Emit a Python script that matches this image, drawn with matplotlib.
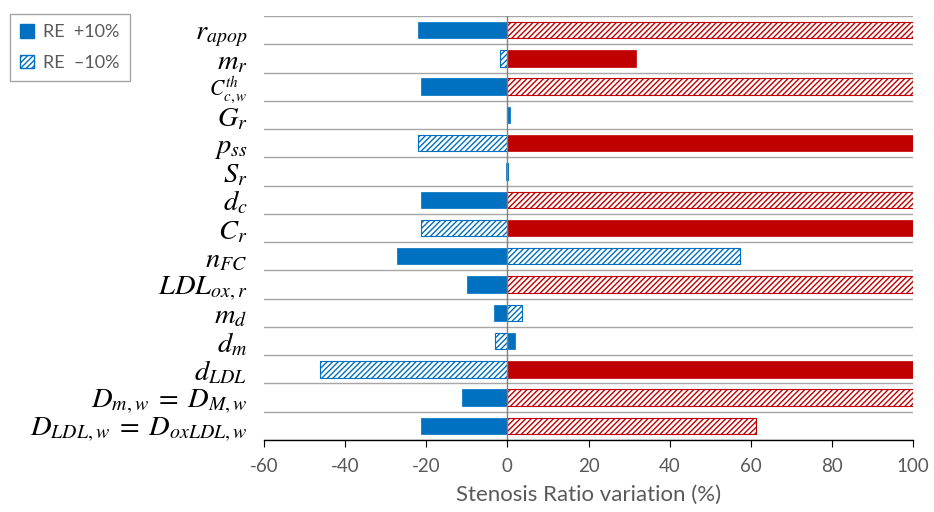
import matplotlib
matplotlib.use('Agg')
import matplotlib.pyplot as plt
import matplotlib.transforms as mtransforms
from matplotlib.patches import Patch
import numpy as np

# parametri (dall'alto verso il basso)
labels = [r'$r_{apop}$', r'$m_r$', r'$C_{c,w}^{th}$', r'$G_r$', r'$p_{ss}$',
          r'$S_r$', r'$d_c$', r'$C_r$', r'$n_{FC}$', r'$LDL_{ox,r}$',
          r'$m_d$', r'$d_m$', r'$d_{LDL}$', r'$D_{m,w}\;=\;D_{M,w}$',
          r'$D_{LDL,w}\;=\;D_{oxLDL,w}$']

# variazione dello stenosis ratio (%)
re_plus = [-22, 31.6, -21.2, 0.6, 100, -0.3, -21.2, 100, -27.1, -9.9,
           -3.2, 2.0, 100, -11.3, -21.2]
re_minus = [100, -1.7, 100, 0, -22, 0.2, 100, -21.4, 57.4, 100,
            3.7, -3.0, -46.1, 100, 61.4]

# 1 = barra rossa, 0 = barra blu
plus_red = [0, 1, 0, 0, 1, 0, 0, 1, 0, 0, 0, 0, 1, 0, 0]
minus_red = [1, 0, 1, 0, 0, 0, 1, 0, 0, 1, 0, 0, 0, 1, 1]

blu = '#0070C0'
rosso = '#C00000'
grigio = '#595959'

plt.rcParams['mathtext.fontset'] = 'stix'
plt.rcParams['hatch.linewidth'] = 1.0
plt.rcParams['axes.unicode_minus'] = False

fig = plt.figure(figsize=(9.34, 5.12), dpi=100)
ax = fig.add_axes([264 / 934, 1 - 440 / 512, (913 - 264) / 934, (440 - 16) / 512])

y = np.arange(len(labels))
h = 0.58

col_plus = [rosso if r else blu for r in plus_red]
col_minus = [rosso if r else blu for r in minus_red]

ax.barh(y, re_plus, height=h, color=col_plus, edgecolor=col_plus, linewidth=0.5, zorder=3)
ax.barh(y, re_minus, height=h, color='white', edgecolor=col_minus,
        hatch='//////', linewidth=0.8, zorder=3)

ax.set_xlim(-60, 100)
ax.set_ylim(len(labels) - 0.5, -0.5)
ax.set_xticks(np.arange(-60, 101, 20))
ax.set_yticks(y)
ax.set_yticklabels(labels, fontsize=20.5)
ax.set_yticks(np.arange(-0.5, len(labels)), minor=True)
ax.tick_params(axis='y', which='both', length=0, pad=12)
ax.tick_params(axis='x', length=5, colors='black', labelcolor=grigio, labelsize=13.5, pad=8)
for t in ax.get_xticklabels():
    t.set_family('Lato')

# C^th con apice e pedice: più piccola e un po' più in alto per stare nella riga
lab_c = ax.get_yticklabels()[2]
lab_c.set_fontsize(15.5)
lab_c.set_transform(lab_c.get_transform() +
                    mtransforms.ScaledTranslation(0, 2.5 / 100, fig.dpi_scale_trans))

ax.grid(axis='y', which='minor', color='#A6A6A6', lw=1.0, zorder=0)
ax.axvline(0, color='#808080', lw=1.0, zorder=4)

for s in ['top', 'right', 'left']:
    ax.spines[s].set_visible(False)
ax.spines['bottom'].set_color('black')
ax.spines['bottom'].set_linewidth(1.0)
ax.spines['bottom'].set_zorder(5)

ax.set_xlabel('Stenosis Ratio variation (%)', fontsize=16, color=grigio,
              family='Lato', labelpad=7)

handles = [Patch(facecolor=blu, edgecolor=blu),
           Patch(facecolor='white', edgecolor=blu, hatch='//////')]
leg = fig.legend(handles, ['RE  +10%', 'RE  \u201310%'], loc='upper left',
                 bbox_to_anchor=(10 / 934, 1 - 14 / 512), borderaxespad=0,
                 fancybox=False, edgecolor='#A6A6A6', framealpha=1,
                 handlelength=0.8, handleheight=0.8, handletextpad=0.5,
                 labelspacing=0.8, borderpad=0.55,
                 prop={'family': 'Lato', 'size': 13})
for t in leg.get_texts():
    t.set_color(grigio)

plt.savefig('out.png', dpi=100)
plt.close()
